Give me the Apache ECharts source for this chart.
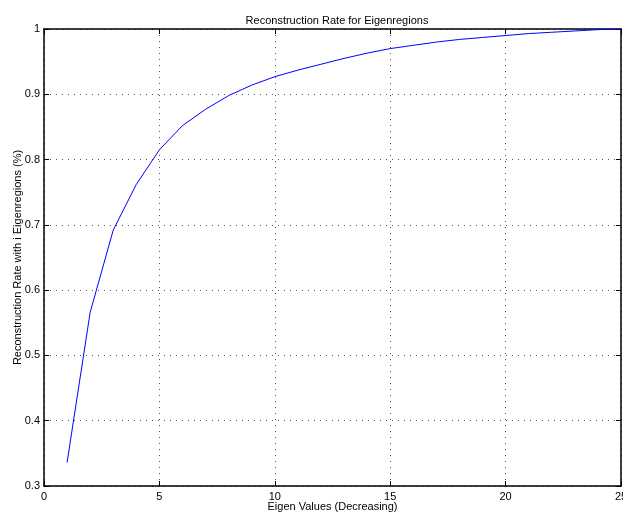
<!DOCTYPE html>
<html>
<head>
<meta charset="utf-8">
<script src="https://cdn.jsdelivr.net/npm/echarts@6/dist/echarts.min.js"></script>
<style>
html, body { margin: 0; padding: 0; background: #fff; }
#chart { width: 623px; height: 514px; }
</style>
</head>
<body>
<div id="chart"></div>
<script>
// eigen value index and cumulative reconstruction rate
var eigenIndex = [1, 2, 3, 4, 5, 6, 7, 8, 9, 10, 11, 12, 13, 14, 15, 16, 17, 18, 19, 20, 21, 22, 23, 24, 25];
var rateValues = [0.336, 0.566, 0.692, 0.762, 0.815, 0.852, 0.877, 0.898, 0.914, 0.927,
                  0.937, 0.946, 0.955, 0.963, 0.970, 0.975, 0.980, 0.984, 0.987, 0.990,
                  0.993, 0.995, 0.997, 0.999, 1.000];

var font = 'Liberation Sans, Arial, sans-serif';
var gridLine = { show: true, lineStyle: { color: '#555', type: [1, 5], width: 1 } };
var axLine = { show: true, onZero: false, lineStyle: { color: '#000', width: 1.5 } };
var tick = { show: true, inside: true, length: 5, lineStyle: { color: '#000' } };

var chart = echarts.init(document.getElementById('chart'));
var points = [];
for (var i = 0; i < eigenIndex.length; i++) {
  points.push([eigenIndex[i], rateValues[i]]);
}

chart.setOption({
  animation: false,
  title: {
    text: 'Reconstruction Rate for Eigenregions',
    left: 332, top: 10, textAlign: 'center',
    textStyle: { fontFamily: font, fontSize: 11, fontWeight: 'normal', color: '#000' }
  },
  grid: { left: 44, right: 2, top: 29, bottom: 28, containLabel: false, outerBoundsMode: 'none' },
  xAxis: [{
    type: 'value', min: 0, max: 25, interval: 5,
    name: 'Eigen Values (Decreasing)', nameLocation: 'middle', nameGap: 15, nameMoveOverlap: false,
    nameTextStyle: { fontFamily: font, fontSize: 11, color: '#000' },
    axisLine: axLine, axisTick: tick, splitLine: gridLine,
    axisLabel: { margin: 5, fontFamily: font, fontSize: 11, color: '#000' }
  }, {
    type: 'value', min: 0, max: 25, interval: 5, position: 'top',
    axisLine: axLine, axisTick: tick, splitLine: { show: false },
    axisLabel: { show: false }
  }],
  yAxis: [{
    type: 'value', min: 0.3, max: 1, interval: 0.1,
    name: 'Reconstruction Rate with i Eigenregions (%)', nameLocation: 'middle', nameGap: 21, nameMoveOverlap: false,
    nameTextStyle: { fontFamily: font, fontSize: 11, color: '#000' },
    axisLine: axLine, axisTick: tick, splitLine: gridLine,
    axisLabel: { margin: 4, fontFamily: font, fontSize: 11, color: '#000',
      formatter: function (v) { return String(Math.round(v * 10) / 10); } }
  }, {
    type: 'value', min: 0.3, max: 1, interval: 0.1, position: 'right',
    axisLine: axLine, axisTick: tick, splitLine: { show: false },
    axisLabel: { show: false }
  }],
  series: [{
    type: 'line',
    data: points,
    showSymbol: false,
    lineStyle: { color: '#0000ff', width: 1 },
    itemStyle: { color: '#0000ff' }
  }]
});
</script>
</body>
</html>
